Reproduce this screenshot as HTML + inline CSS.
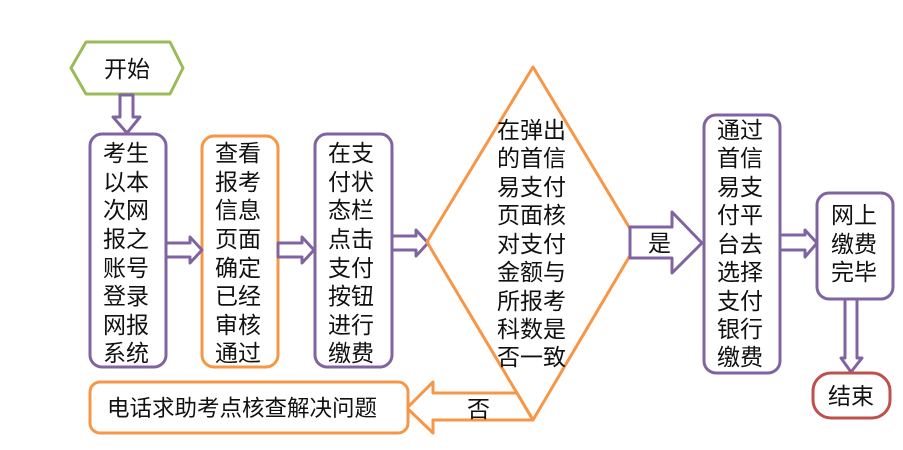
<!DOCTYPE html>
<html><head><meta charset="utf-8"><style>
html,body{margin:0;padding:0;background:#fff;}
svg{display:block;}
text{font-family:"Liberation Sans","Noto Sans CJK SC",sans-serif;fill:#111;}
</style></head><body>
<svg width="903" height="450" viewBox="0 0 903 450" xmlns="http://www.w3.org/2000/svg">
<g fill="#fff" stroke-width="3" stroke-linejoin="round">
<!-- start hexagon -->
<polygon points="71,68 86,42 170,42 183,68 170,94 86,94" stroke="#9bbb59"/>
<!-- down arrow start -->
<polygon points="120,95 133,95 133,117 140,117 127,133 113,117 120,117" stroke="#8064a2"/>
<!-- boxes -->
<rect x="90" y="134" width="76" height="233" rx="12" stroke="#8064a2"/>
<rect x="202" y="136" width="76" height="231" rx="12" stroke="#f79646"/>
<rect x="315" y="134" width="77" height="233" rx="12" stroke="#8064a2"/>
<!-- arrows -->
<polygon points="166,243 190,243 190,237 202,250 190,263 190,257 166,257" stroke="#8064a2"/>
<polygon points="278,243 302,243 302,237 314,250 302,263 302,257 278,257" stroke="#8064a2"/>
<polygon points="392,236 416,236 416,230 428,243 416,256 416,250 392,250" stroke="#8064a2"/>
<!-- no arrow -->
<polygon points="533,420 433,420 433,433 407,408 433,382 433,393 517,393" stroke="#f79646"/>
<!-- diamond -->
<polygon points="533,67 638,242 533,420 427,242" stroke="#f79646" fill="none"/>
<!-- yes arrow -->
<polygon points="630,227 672,227 672,212 702,243 672,273 672,258 630,258" stroke="#8064a2"/>
<rect x="704" y="115" width="76" height="258" rx="12" stroke="#8064a2"/>
<polygon points="780,235 805,235 805,230 817,243 805,257 805,250 780,250" stroke="#8064a2"/>
<rect x="817" y="193" width="76" height="106" rx="12" stroke="#8064a2"/>
<polygon points="845,299 857,299 857,358 862,358 851,372 841,358 845,358" stroke="#8064a2"/>
<rect x="813" y="373" width="77" height="45" rx="18" stroke="#c0504d"/>
<rect x="90" y="382" width="318" height="51" rx="10" stroke="#f79646"/>
</g>
<g font-size="23">
<text x="104" y="77">开始</text>
<text x="103" y="161">考生</text><text x="103" y="190">以本</text><text x="103" y="218">次网</text><text x="103" y="247">报之</text><text x="103" y="276">账号</text><text x="103" y="304">登录</text><text x="103" y="333">网报</text><text x="103" y="361">系统</text>
<text x="215" y="161">查看</text><text x="215" y="190">报考</text><text x="215" y="218">信息</text><text x="215" y="247">页面</text><text x="215" y="276">确定</text><text x="215" y="304">已经</text><text x="215" y="333">审核</text><text x="215" y="361">通过</text>
<text x="328" y="161">在支</text><text x="328" y="190">付状</text><text x="328" y="218">态栏</text><text x="328" y="247">点击</text><text x="328" y="276">支付</text><text x="328" y="304">按钮</text><text x="328" y="333">进行</text><text x="328" y="361">缴费</text>
<text x="497" y="138">在弹出</text><text x="497" y="166">的首信</text><text x="497" y="195">易支付</text><text x="497" y="223">页面核</text><text x="497" y="252">对支付</text><text x="497" y="280">金额与</text><text x="497" y="309">所报考</text><text x="497" y="337">科数是</text><text x="497" y="365">否一致</text>
<text x="648" y="251">是</text>
<text x="467" y="417">否</text>
<text x="717" y="138">通过</text><text x="717" y="166">首信</text><text x="717" y="195">易支</text><text x="717" y="223">付平</text><text x="717" y="252">台去</text><text x="717" y="280">选择</text><text x="717" y="309">支付</text><text x="717" y="337">银行</text><text x="717" y="365">缴费</text>
<text x="831" y="223">网上</text><text x="831" y="252">缴费</text><text x="831" y="280">完毕</text>
<text x="828" y="404">结束</text>
<text x="107" y="416" font-size="22.5">电话求助考点核查解决问题</text>
</g>
</svg>
</body></html>
